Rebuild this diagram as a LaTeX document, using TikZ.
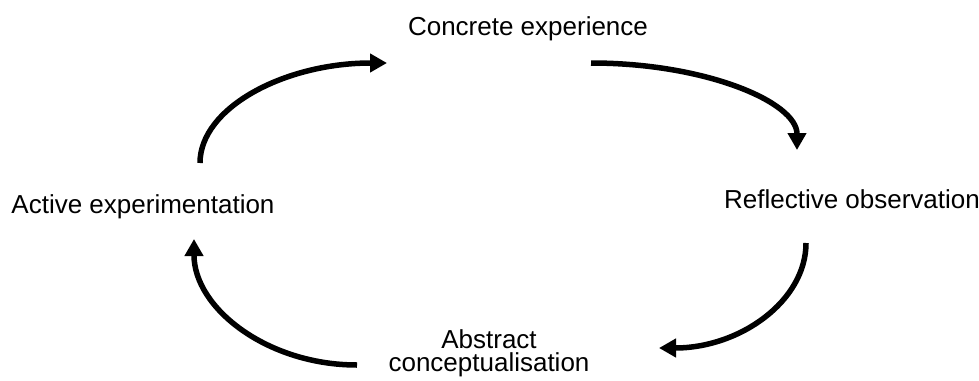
\documentclass[tikz,border=0pt]{standalone}
\usepackage{fontspec}
\setmainfont{Liberation Sans}
\usetikzlibrary{arrows.meta, positioning}

\begin{document}
\begin{tikzpicture}[x=1pt, y=-1pt,
    stage/.style={inner sep=0pt, anchor=base, font=\fontsize{26}{23}\selectfont},
    flow/.style={line width=5.5pt, -{Triangle[length=17pt, width=18pt]}}]

    % Fix the page size
    \useasboundingbox (0, 0) rectangle (979, 380);

    % Place the four stages of the cycle
    \node[stage] (ce) at (528, 35) {Concrete experience};
    \node[stage] (ro) at (852, 208) {Reflective observation};
    \node[stage, align=center] (ac) at (489, 371) {Abstract\\conceptualisation};
    \node[stage] (ae) at (143, 213) {Active experimentation};

    % End points of the arrows
    \coordinate (ae-up) at (200, 163);
    \coordinate (ce-in) at (387, 63);
    \coordinate (ce-out) at (591, 63);
    \coordinate (ro-in) at (797, 150);
    \coordinate (ro-out) at (806, 243);
    \coordinate (ac-in) at (659, 348);
    \coordinate (ac-out) at (357, 365);
    \coordinate (ae-in) at (194, 239);

    % Draw the arrows round the cycle
    \draw[flow] (ae-up) .. controls (200, 108) and (284, 63) .. (ce-in);
    \draw[flow] (ce-out) .. controls (705, 63) and (797, 102) .. (ro-in);
    \draw[flow] (ro-out) .. controls (806, 301) and (740, 348) .. (ac-in);
    \draw[flow] (ac-out) .. controls (267, 365) and (194, 308) .. (ae-in);

\end{tikzpicture}
\end{document}
